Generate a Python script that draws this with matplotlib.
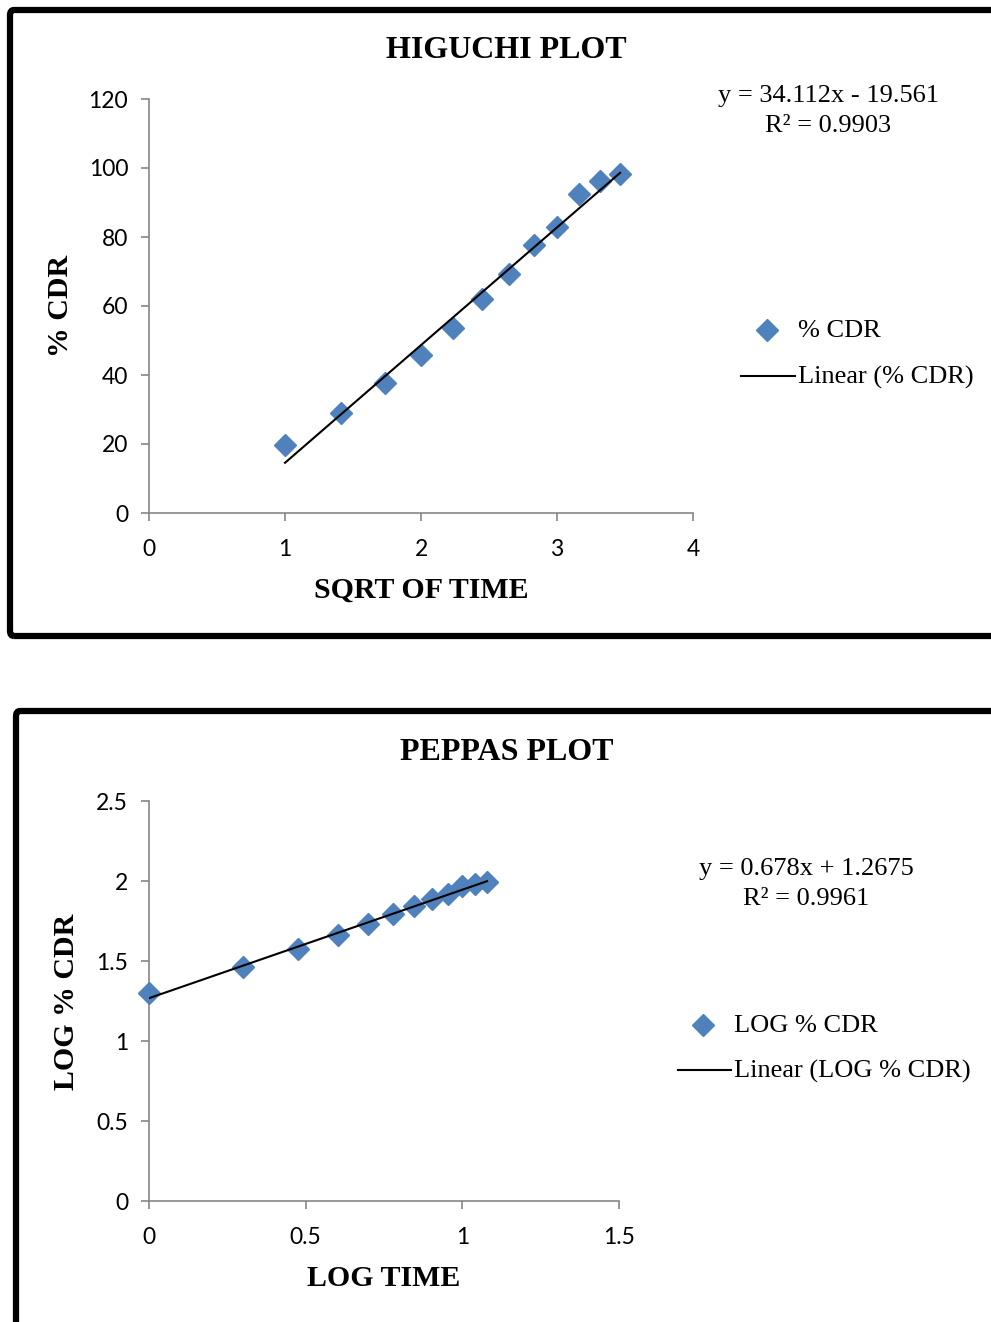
#Higuchi and Peppas release kinetics plots
import matplotlib.pyplot as plt
import matplotlib.patches as patches
import numpy as np

#data
sqrt_time = [1.0, 1.414, 1.732, 2.0, 2.236, 2.449, 2.646, 2.828, 3.0, 3.162, 3.317, 3.464]
cdr = [19.7, 28.9, 37.8, 45.8, 53.7, 61.9, 69.3, 77.7, 82.8, 92.6, 96.2, 98.2]
higuchi_fit = (34.112, -19.561)

log_time = [0.0, 0.301, 0.477, 0.602, 0.699, 0.778, 0.845, 0.903, 0.954, 1.0, 1.041, 1.079]
log_cdr = [1.297, 1.460, 1.577, 1.662, 1.731, 1.795, 1.844, 1.888, 1.920, 1.967, 1.984, 1.991]
peppas_fit = (0.678, 1.2675)

W, H = 991, 1322
fig = plt.figure(figsize=(W/100, H/100), dpi=100)

serif = 'Liberation Serif'
sans = 'Lato'
blue = '#4f81bd'
grey = '#868686'

#outer frames
fig.patches.append(patches.FancyBboxPatch((10/W, 1-636/H), 1100/W, 626/H,
    boxstyle='round,pad=0,rounding_size=0.004', transform=fig.transFigure,
    fill=False, lw=4.5, ec='black'))
fig.patches.append(patches.FancyBboxPatch((16/W, -20/H), 1100/W, (1322-711+20)/H,
    boxstyle='round,pad=0,rounding_size=0.004', transform=fig.transFigure,
    fill=False, lw=4.5, ec='black'))

def style_axes(ax):
    for s in ['top', 'right']:
        ax.spines[s].set_visible(False)
    for s in ['left', 'bottom']:
        ax.spines[s].set_color(grey)
        ax.spines[s].set_linewidth(1.2)
    ax.tick_params(direction='out', length=6, width=1.2, color=grey, labelsize=16.5)
    ax.tick_params(axis='x', pad=13)
    ax.tick_params(axis='y', pad=9)
    for lab in ax.get_xticklabels() + ax.get_yticklabels():
        lab.set_fontfamily(sans)

#HIGUCHI
ax1 = fig.add_axes([149/W, 1-513/H, 544/W, 414/H])
ax1.set_xlim(0, 4)
ax1.set_ylim(0, 120)
ax1.set_xticks([0, 1, 2, 3, 4])
ax1.set_yticks([0, 20, 40, 60, 80, 100, 120])
ax1.plot(sqrt_time, cdr, 'D', color=blue, ms=11, mec=blue, zorder=3)
xs = np.array([sqrt_time[0], sqrt_time[-1]])
ax1.plot(xs, higuchi_fit[0]*xs + higuchi_fit[1], color='black', lw=1.5, zorder=4)
style_axes(ax1)
fig.text(506/W, 1-50/H, 'HIGUCHI PLOT', ha='center', va='center', family=serif, weight='bold', fontsize=23)
fig.text(421/W, 1-590/H, 'SQRT OF TIME', ha='center', va='center', family=serif, weight='bold', fontsize=21.5)
fig.text(60/W, 1-306/H, '% CDR', ha='center', va='center', rotation=90, family=serif, weight='bold', fontsize=21.5)
fig.text(828/W, 1-96/H, 'y = 34.112x - 19.561', ha='center', va='center', family=serif, fontsize=19)
fig.text(828/W, 1-126/H, 'R² = 0.9903', ha='center', va='center', family=serif, fontsize=19)
fig.lines.append(plt.Line2D([767/W], [1-330/H], marker='D', ms=11, color=blue, transform=fig.transFigure))
fig.text(798/W, 1-331/H, '% CDR', ha='left', va='center', family=serif, fontsize=19)
fig.lines.append(plt.Line2D([741/W, 795/W], [1-376/H, 1-376/H], color='black', lw=1.5, transform=fig.transFigure))
fig.text(798/W, 1-377/H, 'Linear (% CDR)', ha='left', va='center', family=serif, fontsize=19)

#PEPPAS
ax2 = fig.add_axes([149/W, 1-1201/H, 470/W, 400/H])
ax2.set_xlim(0, 1.5)
ax2.set_ylim(0, 2.5)
ax2.set_xticks([0, 0.5, 1, 1.5])
ax2.set_xticklabels(['0', '0.5', '1', '1.5'])
ax2.set_yticks([0, 0.5, 1, 1.5, 2, 2.5])
ax2.set_yticklabels(['0', '0.5', '1', '1.5', '2', '2.5'])
ax2.plot(log_time, log_cdr, 'D', color=blue, ms=11, mec=blue, zorder=3, clip_on=False)
xs = np.array([log_time[0], log_time[-1]])
ax2.plot(xs, peppas_fit[0]*xs + peppas_fit[1], color='black', lw=1.5, zorder=4)
style_axes(ax2)
fig.text(507/W, 1-753/H, 'PEPPAS PLOT', ha='center', va='center', family=serif, weight='bold', fontsize=23)
fig.text(384/W, 1-1278/H, 'LOG TIME', ha='center', va='center', family=serif, weight='bold', fontsize=21.5)
fig.text(67/W, 1-1002/H, 'LOG % CDR', ha='center', va='center', rotation=90, family=serif, weight='bold', fontsize=21.5)
fig.text(806/W, 1-869/H, 'y = 0.678x + 1.2675', ha='center', va='center', family=serif, fontsize=19)
fig.text(806/W, 1-899/H, 'R² = 0.9961', ha='center', va='center', family=serif, fontsize=19)
fig.lines.append(plt.Line2D([703/W], [1-1025/H], marker='D', ms=11, color=blue, transform=fig.transFigure))
fig.text(734/W, 1-1026/H, 'LOG % CDR', ha='left', va='center', family=serif, fontsize=19)
fig.lines.append(plt.Line2D([678/W, 731/W], [1-1070/H, 1-1070/H], color='black', lw=1.5, transform=fig.transFigure))
fig.text(734/W, 1-1071/H, 'Linear (LOG % CDR)', ha='left', va='center', family=serif, fontsize=19)

fig.savefig('out.png', dpi=100)
